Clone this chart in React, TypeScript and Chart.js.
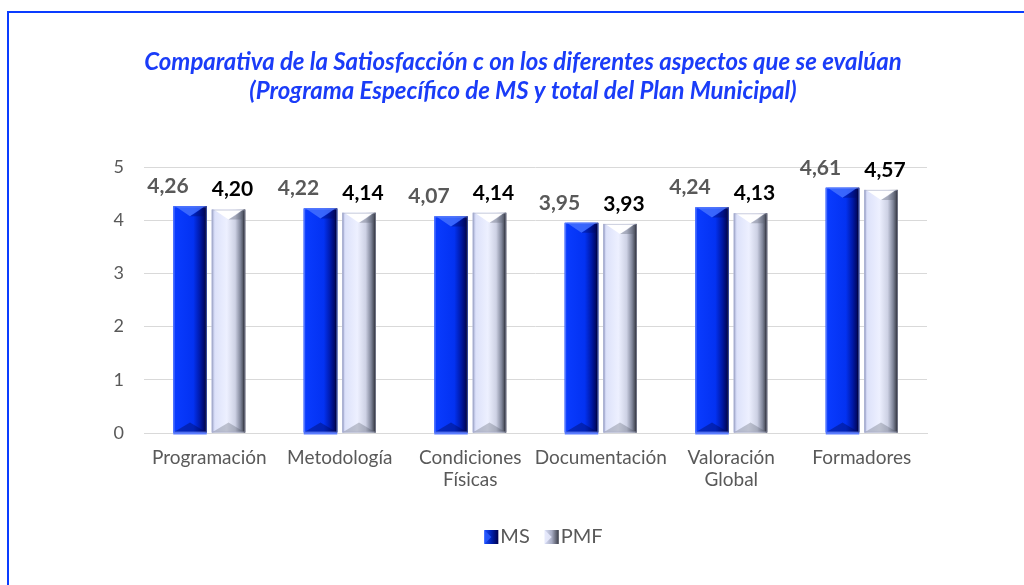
import React, { useEffect, useRef } from "react";
import { Chart, registerables } from "chart.js";

Chart.register(...registerables);

const categories: string[][] = [
  ["Programación"],
  ["Metodología"],
  ["Condiciones", "Físicas"],
  ["Documentación"],
  ["Valoración", "Global"],
  ["Formadores"],
];
const msValues = [4.26, 4.22, 4.07, 3.95, 4.24, 4.61];
const pmfValues = [4.2, 4.14, 4.14, 3.93, 4.13, 4.57];
const seriesNames = ["MS", "PMF"];
const titleLines = [
  "Comparativa de la Satiosfacción c on los diferentes aspectos que se evalúan",
  "(Programa Específico de MS y total del Plan Municipal)",
];
const yTicks = [0, 1, 2, 3, 4, 5];

const FONT = "Lato, 'Noto Sans', sans-serif";
const GRAY = "#595959";

function fmt(v: number) {
  return v.toFixed(2).replace(".", ",");
}

function drawBevelBar(ctx: CanvasRenderingContext2D, l: number, r: number, t: number, b: number, kind: number) {
  const w = r - l;
  const cx = (l + r) / 2;
  const cap = Math.min(10, (b - t) / 3);
  const g = ctx.createLinearGradient(l, 0, r, 0);
  if (kind === 0) {
    g.addColorStop(0, "#0a3cff");
    g.addColorStop(0.6, "#0332f2");
    g.addColorStop(0.8, "#0019a8");
    g.addColorStop(0.93, "#000866");
    g.addColorStop(1, "#000030");
  } else {
    g.addColorStop(0, "#b4bbe0");
    g.addColorStop(0.1, "#dde2fa");
    g.addColorStop(0.45, "#edf0ff");
    g.addColorStop(0.7, "#cdd1e4");
    g.addColorStop(0.86, "#80869a");
    g.addColorStop(1, "#2c2f38");
  }
  ctx.save();
  ctx.fillStyle = g;
  ctx.fillRect(l, t, w, b - t);
  // top V highlight
  ctx.beginPath();
  ctx.moveTo(l + 2, t);
  ctx.lineTo(r - 2, t);
  ctx.lineTo(cx, t + cap);
  ctx.closePath();
  ctx.fillStyle = kind === 0 ? "rgba(70,115,255,0.8)" : "rgba(255,255,255,0.97)";
  ctx.fill();
  // right shoulder shade
  ctx.beginPath();
  ctx.moveTo(r, t);
  ctx.lineTo(cx, t + cap);
  ctx.lineTo(r - 3, t + cap);
  ctx.closePath();
  ctx.fillStyle = kind === 0 ? "rgba(0,10,90,0.35)" : "rgba(90,95,110,0.35)";
  ctx.fill();
  // bottom bevel
  ctx.beginPath();
  ctx.moveTo(l, b);
  ctx.lineTo(r, b);
  ctx.lineTo(cx, b - cap);
  ctx.closePath();
  ctx.fillStyle = kind === 0 ? "rgba(0,10,90,0.4)" : "rgba(80,85,100,0.3)";
  ctx.fill();
  // left edge light
  ctx.fillStyle = kind === 0 ? "rgba(90,125,255,0.5)" : "rgba(150,158,200,0.6)";
  ctx.fillRect(l, t, 1.5, b - t);
  // right edge dark
  ctx.fillStyle = kind === 0 ? "rgba(0,0,30,0.6)" : "rgba(25,25,35,0.6)";
  ctx.fillRect(r - 1.5, t, 1.5, b - t);
  // thin outline
  ctx.strokeStyle = kind === 0 ? "rgba(110,140,255,0.6)" : "rgba(170,175,200,0.6)";
  ctx.lineWidth = 1;
  ctx.strokeRect(l + 0.5, t + 0.5, w - 1, b - t - 1);
  if (kind === 0) {
    ctx.fillStyle = "#5a7cff";
    ctx.fillRect(l, b, w, 2);
  }
  ctx.restore();
}

const barsPlugin = {
  id: "bevelBars",
  afterDatasetsDraw(chart: any) {
    const ctx = chart.ctx as CanvasRenderingContext2D;
    chart.data.datasets.forEach((ds: any, di: number) => {
      const meta = chart.getDatasetMeta(di);
      meta.data.forEach((el: any) => {
        const p = el.getProps(["x", "y", "base", "width"], true);
        drawBevelBar(ctx, p.x - p.width / 2, p.x + p.width / 2, p.y, p.base, di);
      });
    });
  },
  afterDraw(chart: any) {
    const ctx = chart.ctx as CanvasRenderingContext2D;
    const area = chart.chartArea;
    // title
    ctx.save();
    ctx.font = "italic 700 24px " + FONT;
    ctx.fillStyle = "#1a3cf8";
    ctx.textAlign = "center";
    ctx.textBaseline = "middle";
    titleLines.forEach((line, i) => {
      ctx.fillText(line, 523, 62 + i * 29);
    });
    ctx.restore();
    // data labels
    chart.data.datasets.forEach((ds: any, di: number) => {
      const meta = chart.getDatasetMeta(di);
      meta.data.forEach((el: any, i: number) => {
        const p = el.getProps(["x", "y"], true);
        ctx.save();
        ctx.font = "700 21px " + FONT;
        ctx.fillStyle = di === 0 ? GRAY : "#000000";
        ctx.textAlign = "center";
        ctx.textBaseline = "middle";
        const dx = di === 0 ? -22 : 4;
        ctx.fillText(fmt(ds.data[i]), p.x + dx, p.y - 20);
        ctx.restore();
      });
    });
    // legend
    ctx.save();
    ctx.font = "400 20px " + FONT;
    const box = 14;
    const gap = 2;
    const spacing = 15;
    const widths = chart.data.datasets.map((d: any) => ctx.measureText(d.label).width);
    const total = widths.reduce((a: number, w: number) => a + box + gap + w, 0) + spacing * (widths.length - 1);
    let x = (area.left + area.right) / 2 + 8 - total / 2;
    const cy = 537;
    chart.data.datasets.forEach((d: any, di: number) => {
      const g = ctx.createLinearGradient(x, 0, x + box, 0);
      if (di === 0) {
        g.addColorStop(0, "#1a4cff");
        g.addColorStop(0.5, "#0020b0");
        g.addColorStop(1, "#000050");
      } else {
        g.addColorStop(0, "#d8ddf5");
        g.addColorStop(0.5, "#a8adc4");
        g.addColorStop(1, "#3a3d48");
      }
      ctx.fillStyle = g;
      ctx.fillRect(x, cy - box / 2, box, box);
      ctx.beginPath();
      ctx.moveTo(x, cy - box / 2);
      ctx.lineTo(x + box / 2, cy);
      ctx.lineTo(x, cy + box / 2);
      ctx.closePath();
      ctx.fillStyle = di === 0 ? "rgba(40,90,255,0.8)" : "rgba(235,238,255,0.8)";
      ctx.fill();
      x += box + gap;
      ctx.fillStyle = GRAY;
      ctx.textAlign = "left";
      ctx.textBaseline = "middle";
      ctx.fillText(d.label, x, cy);
      x += widths[di] + spacing;
    });
    ctx.restore();
  },
};

export default function App() {
  const ref = useRef<HTMLCanvasElement | null>(null);
  useEffect(() => {
    if (!ref.current) return;
    const chart = new Chart(ref.current, {
      type: "bar",
      data: {
        labels: categories,
        datasets: [
          { label: seriesNames[0], data: msValues, backgroundColor: "#0a3cff", borderWidth: 0 },
          { label: seriesNames[1], data: pmfValues, backgroundColor: "#e2e6fb", borderWidth: 0 },
        ],
      },
      options: {
        responsive: false,
        animation: false,
        events: [],
        layout: { padding: { left: 0, right: 97, top: 167, bottom: 80 } },
        datasets: { bar: { categoryPercentage: 0.59, barPercentage: 0.87 } },
        plugins: {
          legend: { display: false },
          tooltip: { enabled: false },
          title: { display: false },
        },
        scales: {
          x: {
            grid: { display: false, drawTicks: false },
            border: { display: true, color: "#d9d9d9", width: 1 },
            afterFit: (s: any) => {
              s.height = 72;
            },
            ticks: {
              color: GRAY,
              font: { family: FONT, size: 19, lineHeight: 1.16 },
              padding: 14,
              maxRotation: 0,
              autoSkip: false,
            },
          },
          y: {
            min: 0,
            max: 5,
            afterFit: (s: any) => {
              s.width = 144;
            },
            afterBuildTicks: (s: any) => {
              s.ticks = yTicks.map((v) => ({ value: v }));
            },
            grid: { color: "#d9d9d9", drawTicks: false },
            border: { display: false },
            ticks: {
              color: GRAY,
              font: { family: FONT, size: 18 },
              padding: 20,
            },
          },
        },
      },
      plugins: [barsPlugin],
    } as any);
    return () => chart.destroy();
  }, []);
  return (
    <div style={{ position: "fixed", left: 0, top: 0, width: 1024, height: 585, overflow: "hidden", background: "#fff" }}>
      <div
        style={{
          position: "absolute",
          left: 7,
          top: 11,
          width: 1100,
          height: 700,
          border: "2px solid #0a3cff",
          boxSizing: "border-box",
        }}
      />
      <canvas ref={ref} width={1024} height={585} style={{ position: "absolute", left: 0, top: 0, width: 1024, height: 585 }} />
    </div>
  );
}
